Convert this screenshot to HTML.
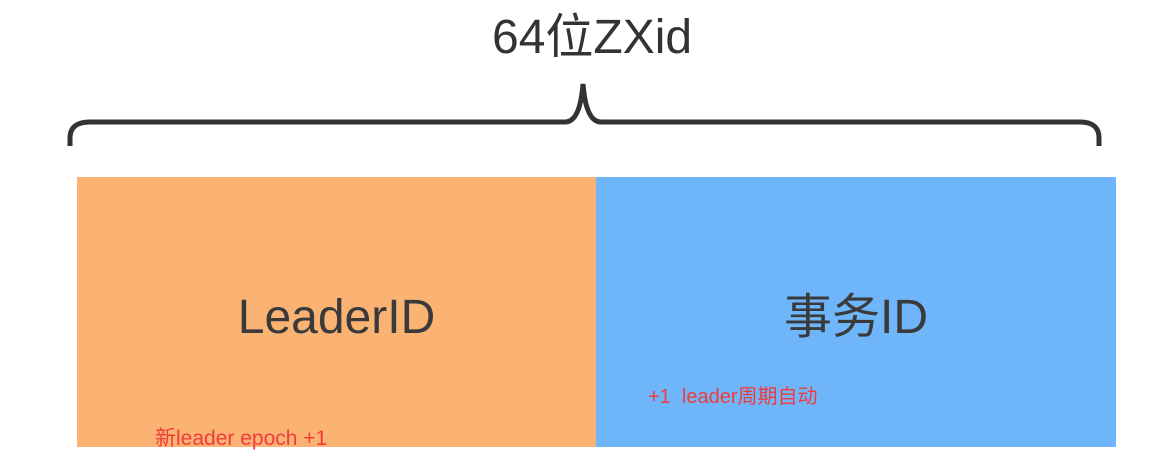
<!DOCTYPE html>
<html><head><meta charset="utf-8"><style>
body{margin:0;width:1176px;height:465px;background:#fff;position:relative;overflow:hidden;font-family:"Liberation Sans","Noto Sans CJK SC",sans-serif}
.t{position:absolute;white-space:nowrap}
</style></head><body>
<div class="t" style="left:492px;top:10px;font-size:48px;color:#333;line-height:56px">64位ZXid</div>
<svg width="1176" height="170" style="position:absolute;left:0;top:0">
<path d="M70 146 L70 138 Q70 122 90 122 L565 122 Q580 122 583 84 Q586 122 601 122 L1080 122 Q1099 122 1099 138 L1099 146" fill="none" stroke="#333" stroke-width="5"/>
</svg>
<div style="position:absolute;left:77px;top:177px;width:519px;height:270px;background:#fbb374"></div>
<div style="position:absolute;left:596px;top:177px;width:520px;height:270px;background:#6fb5f9"></div>
<div class="t" style="left:77px;width:519px;text-align:center;top:290px;font-size:48px;color:#3a3a3a;line-height:56px">LeaderID</div>
<div class="t" style="left:596px;width:520px;text-align:center;top:290px;font-size:48px;color:#3a3a3a;line-height:56px">事务ID</div>
<div class="t" style="left:648px;top:384px;font-size:20px;color:#f03c3c;line-height:26px">+1&nbsp; leader周期自动</div>
<div class="t" style="left:155px;top:426px;font-size:21px;color:#f03c3c;line-height:26px">新leader epoch +1</div>
</body></html>
